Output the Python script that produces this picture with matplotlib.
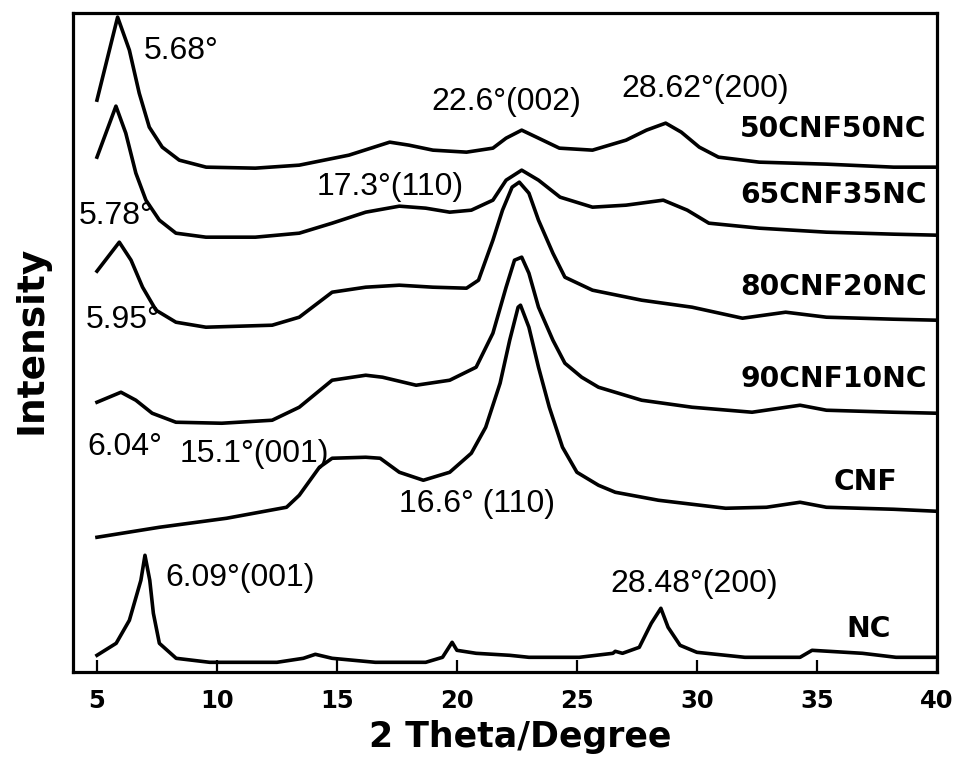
import matplotlib
matplotlib.use('Agg')
import matplotlib.pyplot as plt

# XRD patterns: 2theta (deg) and intensity (a.u., own baseline)
tt_50cnf = [5.0, 5.86, 6.35, 6.76, 7.18, 7.72, 8.43, 9.55, 11.6, 13.43,
            15.5, 17.2, 18.0, 19.0, 20.4, 21.5, 22.05, 22.7, 23.4, 24.27,
            25.65, 27.05, 27.9, 28.7, 29.35, 30.1, 30.9, 32.6, 35.4, 38.2,
            40.0]
i_50cnf = [72, 155, 122, 79, 45, 25, 12, 5, 4, 7,
           17, 30, 27, 22, 20, 24, 34, 42, 34, 24,
           22, 32, 42, 49, 40, 25, 15, 10, 8, 5,
           5]

tt_65cnf = [5.0, 5.79, 6.2, 6.62, 7.04, 7.6, 8.29, 9.54, 11.6, 13.43,
            14.8, 16.2, 17.6, 18.7, 19.7, 20.6, 21.5, 22.05, 22.7, 23.4,
            24.3, 25.65, 27.05, 28.6, 29.6, 30.5, 32.6, 35.4, 38.2, 40.0]
i_65cnf = [85, 136, 109, 69, 42, 22, 9, 5, 5, 9,
           19, 30, 36, 34, 30, 32, 42, 62, 72, 62,
           45, 35, 37, 42, 32, 19, 14, 10, 8, 7]

tt_80cnf = [5.0, 5.93, 6.42, 6.9, 7.46, 8.29, 9.54, 12.3, 13.43, 14.8,
            16.2, 17.6, 19.0, 20.4, 20.9, 21.5, 21.9, 22.3, 22.6, 23.0,
            23.4, 24.0, 24.5, 25.65, 27.7, 29.8, 31.9, 33.7, 35.4, 38.2,
            40.0]
i_80cnf = [61, 90, 72, 45, 22, 10, 5, 7, 15, 40,
           45, 47, 45, 44, 52, 92, 122, 145, 150, 139,
           112, 79, 55, 42, 32, 25, 14, 20, 15, 13,
           12]

tt_90cnf = [5.0, 6.0, 6.62, 7.3, 8.29, 10.2, 12.3, 13.43, 14.8, 16.2,
            16.9, 18.3, 19.7, 20.8, 21.5, 22.05, 22.4, 22.7, 23.0, 23.4,
            24.0, 24.5, 25.2, 25.9, 27.7, 29.8, 32.3, 34.3, 35.4, 38.2,
            40.0]
i_90cnf = [25, 35, 27, 14, 5, 4, 7, 20, 47, 52,
           50, 42, 47, 60, 94, 140, 167, 170, 154, 120,
           87, 64, 50, 40, 27, 20, 15, 22, 17, 15,
           14]

tt_cnf = [5.0, 7.6, 10.4, 12.9, 13.43, 14.27, 14.8, 16.2, 16.8, 17.6,
          18.6, 19.7, 20.6, 21.2, 21.8, 22.2, 22.55, 22.65, 23.0, 23.4,
          23.85, 24.4, 25.0, 25.9, 26.6, 28.4, 31.2, 32.9, 34.3, 35.4,
          38.2, 40.0]
i_cnf = [5, 15, 24, 35, 47, 75, 84, 85, 84, 70,
         62, 70, 89, 115, 159, 202, 235, 237, 215, 175,
         135, 95, 70, 57, 50, 42, 34, 35, 40, 35,
         33, 31]

tt_nc = [5.0, 5.8, 6.35, 6.83, 7.0, 7.2, 7.35, 7.6, 8.3, 9.7,
         12.5, 13.6, 14.1, 14.8, 16.6, 18.7, 19.4, 19.8, 20.0, 20.8,
         22.2, 23.0, 25.1, 26.5, 26.6, 26.9, 27.6, 28.1, 28.5, 28.8,
         29.3, 30.0, 32.0, 34.3, 34.8, 35.5, 36.9, 38.3, 40.0]
i_nc = [17, 29, 52, 92, 117, 92, 59, 29, 14, 10,
        10, 14, 18, 14, 10, 10, 15, 30, 22, 19,
        17, 15, 15, 19, 21, 19, 25, 49, 64, 45,
        27, 20, 15, 15, 22, 21, 19, 15, 15]

names = ['50CNF50NC', '65CNF35NC', '80CNF20NC', '90CNF10NC', 'CNF', 'NC']
patterns = [(tt_50cnf, i_50cnf), (tt_65cnf, i_65cnf), (tt_80cnf, i_80cnf),
            (tt_90cnf, i_90cnf), (tt_cnf, i_cnf), (tt_nc, i_nc)]
offsets = [500, 430, 340, 245, 130, 0]

# where the sample names sit (right edge, baseline)
name_pos = [(39.55, 535), (39.6, 469), (39.6, 377), (39.6, 285), (38.34, 182), (38.1, 35)]

# peak annotations: text, x, y (left edge, baseline)
peak_notes = [
    ('5.68°', 6.93, 613),
    ('22.6°(002)', 18.93, 562),
    ('28.62°(200)', 26.85, 575),
    ('17.3°(110)', 14.14, 477),
    ('5.78°', 4.26, 448),
    ('5.95°', 4.55, 344),
    ('6.04°', 4.6, 217),
    ('15.1°(001)', 8.43, 210),
    ('16.6° (110)', 17.6, 160),
    ('6.09°(001)', 7.85, 86),
    ('28.48°(200)', 26.4, 80),
]

fig = plt.figure(figsize=(9.54, 7.71), dpi=100)
ax = fig.add_axes([0.0765, 0.128, 0.9055, 0.855])

for (tt, inten), off in zip(patterns, offsets):
    ax.plot(tt, [v + off for v in inten], color='black', lw=2.6,
            solid_joinstyle='round')

for name, (x, y) in zip(names, name_pos):
    ax.text(x, y, name, ha='right', va='baseline', fontsize=20.3,
            fontweight='bold', family='DejaVu Sans')

for txt, x, y in peak_notes:
    ax.text(x, y, txt, ha='left', va='baseline', fontsize=23, family='Liberation Sans')

ax.set_xlim(4, 40)
ax.set_ylim(0, 659)
ax.set_xticks(range(5, 41, 5))
ax.set_yticks([])
ax.tick_params(axis='x', direction='in', length=9, width=1.6, pad=12,
               labelsize=17.5)
for lab in ax.get_xticklabels():
    lab.set_fontweight('bold')
for sp in ax.spines.values():
    sp.set_linewidth(2.3)

fig.text(0.545, 0.031, '2 Theta/Degree', ha='center', va='baseline',
         fontsize=25, fontweight='bold')
fig.text(0.0325, 0.559, 'Intensity', ha='center', va='center', rotation=90,
         fontsize=27, fontweight='bold')

fig.savefig('out.png', dpi=100)
